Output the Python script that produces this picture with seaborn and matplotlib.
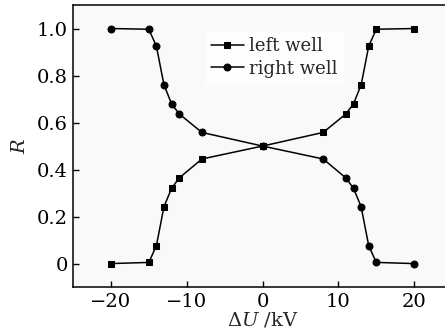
import numpy as np
import pandas as pd
import matplotlib
matplotlib.use("Agg")
import matplotlib.pyplot as plt
import seaborn as sns

# voltage difference (kV)
dU = [-20, -15, -14, -13, -12, -11, -8, 0, 8, 11, 12, 13, 14, 15, 20]
# ratio
left_well = [0.0, 0.005, 0.076, 0.242, 0.32, 0.364, 0.445, 0.5,
             0.558, 0.637, 0.68, 0.76, 0.925, 0.997, 1.0]
right_well = [1.0, 0.997, 0.925, 0.76, 0.68, 0.637, 0.558, 0.5,
              0.445, 0.364, 0.32, 0.242, 0.076, 0.005, 0.0]
xticks = [-20, -10, 0, 10, 20]
yticks = [0, 0.2, 0.4, 0.6, 0.8, 1.0]
ytick_labels = ["0", "0.2", "0.4", "0.6", "0.8", "1.0"]

df = pd.DataFrame({
    "dU": dU + dU,
    "R": left_well + right_well,
    "well": ["left well"] * len(dU) + ["right well"] * len(dU),
})

sns.set_style("ticks")
plt.rcParams["font.family"] = ["DejaVu Serif"]
plt.rcParams["mathtext.fontset"] = "dejavuserif"

fig = plt.figure(figsize=(4.45, 3.35), dpi=100)
fig.patch.set_facecolor("white")
ax = fig.add_axes([0.164, 0.143, 0.852, 0.842])
ax.set_facecolor("#f9f9f9")

sns.lineplot(data=df, x="dU", y="R", style="well", markers=["s", "o"],
             dashes=False, color="black", linewidth=1.1, markersize=5,
             markeredgecolor="black", ax=ax, legend=True)

ax.set_xlim(-25, 25)
ax.set_ylim(-0.1, 1.1)
ax.set_xticks(xticks)
ax.set_xticklabels(["\u221220", "\u221210", "0", "10", "20"])
ax.set_yticks(yticks)
ax.set_yticklabels(ytick_labels)
ax.tick_params(direction="in", length=4, width=1, labelsize=14, colors="black")
ax.tick_params(axis="x", pad=4)
ax.set_xlabel(r"$\Delta U$ /kV", fontsize=14, labelpad=0)
ax.set_ylabel(r"$R$", fontsize=14, labelpad=6)
for s in ax.spines.values():
    s.set_linewidth(1.1)
    s.set_color("black")

handles, labels = ax.get_legend_handles_labels()
leg = ax.legend(handles, labels, loc="upper left", bbox_to_anchor=(0.35, 0.905),
                frameon=True, fancybox=False, fontsize=13, handlelength=1.8,
                handletextpad=0.3, labelspacing=0.25, borderpad=0.3,
                borderaxespad=0)
leg.get_frame().set_facecolor("white")
leg.get_frame().set_edgecolor("white")

fig.savefig("out.png", dpi=100)
